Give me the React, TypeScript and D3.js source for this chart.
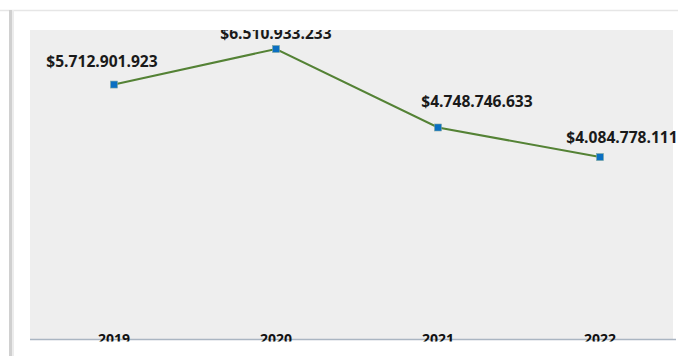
import React from "react";
import * as d3 from "d3";

const years = ["2019", "2020", "2021", "2022"];
const values = [5712901923, 6510933233, 4748746633, 4084778111];
const labels = ["$5.712.901.923", "$6.510.933.233", "$4.748.746.633", "$4.084.778.111"];

// label placement (layout only)
const labelDx = [-12, 0, 39, 22];
const labelDy = [-18, -10, -20, -14];

const W = 678;
const H = 356;
const plot = { left: 30, right: 673, top: 30, bottom: 339 };

export default function App() {
  const x = d3.scaleBand<string>().domain(years).range([33, 681]);
  const y = d3.scaleLinear().domain([0, 7e9]).range([339, 339 - 7 * 44.54]);
  const line = d3
    .line<number>()
    .x((_, i) => (x(years[i]) as number) + x.bandwidth() / 2)
    .y((d) => y(d));
  const cx = (i: number) => (x(years[i]) as number) + x.bandwidth() / 2;
  const font = "'Open Sans', 'Noto Sans', sans-serif";

  return (
    <div style={{ position: "fixed", left: 0, top: 0, width: W, height: H, background: "#fff" }}>
      <svg width={W} height={H} style={{ display: "block" }}>
        <defs>
          <clipPath id="plotclip">
            <rect x={plot.left} y={plot.top} width={676 - plot.left} height={341.5 - plot.top} />
          </clipPath>
        </defs>
        {/* card borders */}
        <line x1={0} x2={W} y1={10.5} y2={10.5} stroke="#e6e6e6" strokeWidth={1.5} />
        <rect x={9} y={10} width={3} height={H - 10} fill="#d0d0d0" />
        <rect x={12} y={10} width={2} height={H - 10} fill="#ececec" />
        {/* plot background */}
        <rect x={plot.left} y={plot.top} width={plot.right - plot.left} height={plot.bottom - plot.top} fill="#eeeeee" />
        <g clipPath="url(#plotclip)">
          {/* axis */}
          <line x1={25} x2={W} y1={339.5} y2={339.5} stroke="#aab5c2" strokeWidth={1.5} />
          {years.map((yr, i) => (
            <text
              key={yr}
              x={cx(i)}
              y={343.5}
              textAnchor="middle"
              fontFamily={font}
              fontWeight={700}
              fontSize={14}
              fill="#111"
            >
              {yr}
            </text>
          ))}
          <path d={line(values) || ""} fill="none" stroke="#548235" strokeWidth={2} />
          {values.map((v, i) => (
            <rect
              key={i}
              x={cx(i) - 3.5}
              y={y(v) - 3.5}
              width={7}
              height={7}
              fill="#0a6fc2"
              stroke="#7fa7a0"
              strokeWidth={0.6}
            />
          ))}
          {labels.map((l, i) => (
            <text
              key={l}
              x={cx(i) + labelDx[i]}
              y={y(values[i]) + labelDy[i]}
              textAnchor="middle"
              fontFamily={font}
              fontWeight={700}
              fontSize={15.6}
              fill="#1a1a1a"
            >
              {l}
            </text>
          ))}
        </g>
      </svg>
    </div>
  );
}
